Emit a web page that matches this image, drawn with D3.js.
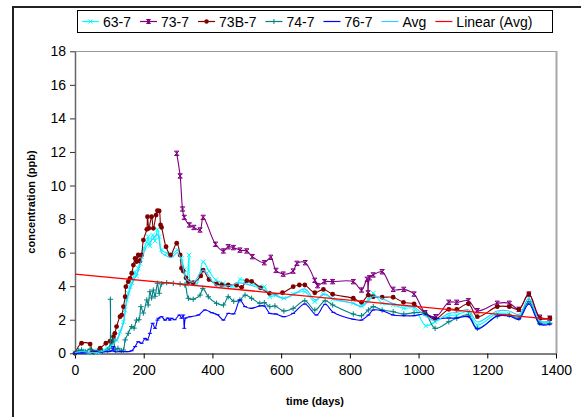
<!DOCTYPE html>
<html>
<head>
<meta charset="utf-8">
<script src="https://cdn.jsdelivr.net/npm/d3@7"></script>
<style>
  body { margin: 0; background: #fff; }
  text { font-family: "Liberation Sans", Arial, sans-serif; }
</style>
</head>
<body>
<svg id="chart" width="581" height="417"></svg>
<script>
// Data: [day, concentration ppb]
var s63 = [[0,0.05],[10,0.1],[19,0.15],[30,0.1],[44,0.05],[55,0.15],[65,0.05],[73,0.1],[85,0.2],[95,0.3],[107,0.6],[121,0.8],[131,1.29],[141,1.88],[146,2.58],[150,3.18],[155,3.58],[160,3.97],[165,4.2],[170,4.47],[175,4.86],[179,4.6],[184,5.07],[189,5.36],[194,5.76],[201,6.26],[209,6.65],[213,6.95],[218,6.4],[226,7.05],[233,6.7],[240,7.39],[245,6.95],[252,6.16],[267,5.96],[281,5.86],[298,6.16],[310,5.66],[318,5.0],[325,4.11],[332,5.86],[337,4.17],[354,4.13],[373,5.46],[390,4.9],[410,4.37],[432,4.17],[450,4.0],[470,3.97],[480,4.41],[495,4.3],[514,4.17],[538,3.97],[551,3.97],[567,3.37],[585,3.47],[608,3.28],[635,3.53],[669,3.67],[698,3.08],[723,3.53],[750,3.22],[810,2.98],[834,2.82],[854,3.22],[868,3.58],[894,2.98],[926,2.88],[957,2.68],[987,2.68],[1021,1.63],[1048,1.88],[1088,2.24],[1111,2.28],[1145,2.48],[1171,1.69],[1229,2.38],[1264,2.32],[1292,2.18],[1321,3.28],[1353,1.88],[1382,1.88]];

var s73 = [[296,11.92],[306,10.57],[313,8.6],[318,8.1],[333,7.65],[346,7.5],[364,7.35],[373,8.1],[409,6.5],[432,6.1],[446,6.35],[461,6.3],[480,6.15],[500,6.1],[516,5.76],[551,5.4],[570,5.72],[585,4.94],[606,4.72],[635,4.9],[646,5.36],[670,5.4],[698,4.35],[706,4.03],[726,4.27],[750,4.27],[810,4.27],[834,3.77],[850,4.41],[853,3.6],[857,4.5],[868,4.67],[894,4.86],[926,3.81],[957,3.81],[987,3.53],[1019,2.42],[1050,2.18],[1088,3.04],[1111,3.04],[1145,3.13],[1171,2.54],[1229,2.98],[1264,2.98],[1292,2.62],[1321,3.53],[1353,2.15],[1382,2.09]];

var s73B = [[0,0],[19,0.6],[44,0.55],[51,0.1],[73,0.3],[90,0.6],[102,0.73],[107,0.69],[112,0.99],[116,1.19],[121,1.59],[131,2.18],[136,2.28],[141,2.78],[146,3.37],[148,3.97],[155,4.27],[160,4.47],[165,4.77],[170,5.26],[175,5.66],[179,5.46],[184,5.86],[189,5.5],[194,5.86],[199,6.75],[209,7.39],[211,8.14],[215,7.45],[223,8.14],[228,7.45],[236,8.24],[240,8.5],[245,8.48],[249,7.65],[252,7.5],[265,6.35],[278,5.86],[296,6.56],[306,5.86],[310,5.07],[315,4.9],[323,4.5],[330,4.27],[344,4.21],[366,4.61],[373,4.96],[390,4.4],[412,4.13],[427,4.07],[446,4.07],[470,4.07],[485,3.93],[500,4.33],[514,4.29],[540,3.9],[566,3.58],[604,3.61],[635,3.97],[653,4.07],[669,4.07],[698,3.61],[723,3.81],[750,3.52],[810,3.28],[834,3.04],[854,3.47],[868,3.37],[894,3.34],[926,3.34],[956,3.04],[987,2.94],[1019,2.38],[1048,2.04],[1088,2.62],[1111,2.62],[1145,2.95],[1171,2.18],[1229,2.78],[1264,2.78],[1292,2.62],[1321,3.53],[1353,2.09],[1382,2.09]];

var s74 = [[0,0],[10,0.15],[19,0.2],[30,0.1],[44,0.25],[55,0.05],[65,0.15],[80,0.1],[95,0.2],[100,0.3],[103,3.22],[106,0.4],[112,0.8],[118,0.2],[125,0.3],[135,0.15],[141,0.2],[146,0.8],[155,1.19],[165,1.59],[172,1.5],[179,1.98],[186,2.0],[192,2.78],[199,2.4],[209,3.18],[213,2.88],[218,3.67],[223,3.3],[228,3.77],[233,3.4],[240,4.17],[245,3.58],[252,4.13],[267,4.21],[286,4.17],[306,4.13],[320,4.07],[330,3.28],[344,3.22],[364,3.47],[372,3.87],[388,3.37],[412,2.98],[432,2.88],[446,3.37],[462,3.1],[480,3.18],[495,3.47],[514,3.28],[538,2.98],[551,3.02],[567,2.78],[582,2.82],[608,2.52],[635,2.68],[669,3.13],[698,2.58],[728,3.13],[750,2.88],[810,2.34],[834,2.24],[854,2.58],[868,2.78],[894,2.58],[926,2.48],[957,2.34],[987,2.42],[1019,2.38],[1048,1.49],[1088,1.88],[1111,2.09],[1145,2.28],[1171,1.49],[1229,2.22],[1264,2.28],[1292,2.09],[1321,3.08],[1353,1.79],[1382,1.79]];

var s76 = [[0,0],[20,0.02],[44,0.05],[60,0.1],[73,0.05],[90,0.1],[100,0.1],[107,0.15],[112,0.4],[115,0.1],[130,0.1],[145,0.1],[155,0.1],[165,0.15],[175,0.4],[184,0.69],[194,0.6],[204,0.89],[210,0.8],[218,1.19],[226,1.79],[233,1.49],[240,1.98],[243,2.09],[252,2.18],[262,1.98],[270,2.1],[276,1.98],[281,2.09],[290,2.0],[304,2.28],[310,2.09],[315,2.28],[318,1.49],[322,2.1],[335,2.18],[359,2.28],[378,2.58],[398,2.42],[415,2.3],[432,1.98],[446,2.38],[462,2.35],[480,3.18],[495,2.78],[514,2.68],[538,2.82],[551,2.82],[567,2.38],[585,2.34],[608,2.18],[635,2.38],[669,2.94],[703,2.28],[728,2.92],[752,2.44],[810,2.03],[834,1.98],[854,2.28],[868,2.58],[894,2.54],[926,2.28],[957,2.24],[987,2.24],[1019,2.34],[1048,2.09],[1088,2.1],[1111,2.1],[1145,2.18],[1171,1.45],[1229,2.22],[1264,2.22],[1292,2.03],[1321,2.94],[1353,1.73],[1382,1.73]];

var sAvg = [[0,0.03],[19,0.12],[44,0.05],[73,0.08],[95,0.25],[107,0.5],[121,0.75],[131,1.2],[141,1.8],[150,3.0],[160,3.8],[170,4.3],[184,4.9],[194,5.6],[209,6.4],[226,6.8],[240,7.1],[252,6.0],[267,5.8],[281,5.7],[298,6.0],[310,5.5],[325,4.4],[346,4.25],[373,4.96],[410,4.07],[446,4.03],[480,4.2],[514,4.04],[551,3.79],[585,3.43],[608,3.26],[635,3.49],[669,3.84],[698,3.2],[728,3.53],[750,3.27],[810,2.98],[834,2.77],[854,3.11],[868,3.4],[894,3.26],[926,2.96],[957,2.82],[987,2.76],[1019,2.23],[1048,1.94],[1088,2.38],[1111,2.43],[1145,2.6],[1171,1.87],[1229,2.52],[1264,2.52],[1292,2.31],[1321,3.27],[1353,1.93],[1382,1.92]];

var trendDays = [0, 1382];
var trendVals = [4.72, 2.04];

var seriesNames = ["63-7", "73-7", "73B-7", "74-7", "76-7", "Avg", "Linear (Avg)"];
var xTicks = [0, 200, 400, 600, 800, 1000, 1200, 1400];
var yTicks = [0, 2, 4, 6, 8, 10, 12, 14, 16, 18];

var svg = d3.select("#chart");

// outer chart frame (only left and top edges are visible)
svg.append("rect")
  .attr("x", 13).attr("y", 7)
  .attr("width", 640).attr("height", 480)
  .attr("fill", "#fff")
  .attr("stroke", "#222")
  .attr("stroke-width", 2);

var x = d3.scaleLinear().domain([0, 1400]).range([75, 556]);
var y = d3.scaleLinear().domain([0, 18]).range([353.3, 51.3]);

// plot area border: top thin grey, right thicker grey
svg.append("line")
  .attr("x1", 75).attr("x2", 556).attr("y1", 51.5).attr("y2", 51.5)
  .attr("stroke", "#9a9a9a").attr("stroke-width", 1);
svg.append("line")
  .attr("x1", 556.5).attr("x2", 556.5).attr("y1", 51).attr("y2", 353)
  .attr("stroke", "#a8a8a8").attr("stroke-width", 2);

// axes
var yAxis = svg.append("g")
  .attr("transform", "translate(75,0)")
  .call(d3.axisLeft(y).tickValues(yTicks).tickSize(5).tickPadding(4).tickSizeOuter(0));
yAxis.select(".domain").attr("stroke", "#666").attr("stroke-width", 1.5);
yAxis.selectAll(".tick line").attr("stroke", "#333");
yAxis.selectAll("text").style("font-size", "14px").attr("fill", "#000");

var xAxis = svg.append("g")
  .attr("transform", "translate(0,353.5)")
  .call(d3.axisBottom(x).tickValues(xTicks).tickFormat(d3.format("d")).tickSize(5).tickPadding(7).tickSizeOuter(0));
xAxis.select(".domain").attr("stroke", "#000").attr("stroke-width", 1.2);
xAxis.selectAll(".tick line").attr("stroke", "#000");
xAxis.selectAll("text").style("font-size", "14px").attr("fill", "#000");

// axis titles
svg.append("text")
  .attr("x", 315).attr("y", 405)
  .attr("text-anchor", "middle")
  .style("font-size", "11px").style("font-weight", "bold")
  .text("time (days)");
svg.append("text")
  .attr("transform", "translate(35,202) rotate(-90)")
  .attr("text-anchor", "middle")
  .style("font-size", "11px").style("font-weight", "bold")
  .text("concentration (ppb)");

// marker shapes
function markerPath(type, s) {
  if (type === "x") return "M" + (-s) + "," + (-s) + "L" + s + "," + s + "M" + (-s) + "," + s + "L" + s + "," + (-s);
  if (type === "star") return "M" + (-s) + "," + (-s) + "L" + s + "," + s + "M" + (-s) + "," + s + "L" + s + "," + (-s) +
    "M" + (-s) + "," + (-s) + "L" + s + "," + (-s) + "M" + (-s) + "," + s + "L" + s + "," + s + "M0," + (-s) + "L0," + s;
  if (type === "plus") return "M" + (-s - 0.5) + ",0L" + (s + 0.5) + ",0M0," + (-s - 0.5) + "L0," + (s + 0.5);
  if (type === "dash") return "M" + (-s) + ",0L" + s + ",0";
  return "";
}

var series = [
  { name: seriesNames[0], data: s63, color: "#00ffff", marker: "x" },
  { name: seriesNames[1], data: s73, color: "#800080", marker: "star" },
  { name: seriesNames[2], data: s73B, color: "#800000", marker: "circle" },
  { name: seriesNames[3], data: s74, color: "#008080", marker: "plus" },
  { name: seriesNames[4], data: s76, color: "#0000ff", marker: "dash" },
  { name: seriesNames[5], data: sAvg, color: "#33ccff", marker: null }
];

var line = d3.line()
  .x(function(d) { return x(d[0]); })
  .y(function(d) { return y(d[1]); })
  .curve(d3.curveCatmullRom.alpha(0.5));

var plot = svg.append("g");

series.forEach(function(s) {
  plot.append("path")
    .datum(s.data)
    .attr("d", line)
    .attr("fill", "none")
    .attr("stroke", s.color)
    .attr("stroke-width", 1.1);
  if (!s.marker) return;
  var g = plot.append("g");
  if (s.marker === "circle") {
    g.selectAll("circle").data(s.data).enter().append("circle")
      .attr("cx", function(d) { return x(d[0]); })
      .attr("cy", function(d) { return y(d[1]); })
      .attr("r", 2.4)
      .attr("fill", s.color);
  } else {
    g.selectAll("path").data(s.data).enter().append("path")
      .attr("transform", function(d) { return "translate(" + x(d[0]) + "," + y(d[1]) + ")"; })
      .attr("d", markerPath(s.marker, s.marker === "dash" ? 2 : 2.2))
      .attr("fill", "none")
      .attr("stroke", s.color)
      .attr("stroke-width", 1);
  }
});

// linear trend of Avg
plot.append("line")
  .attr("x1", x(trendDays[0])).attr("y1", y(trendVals[0]))
  .attr("x2", x(trendDays[1])).attr("y2", y(trendVals[1]))
  .attr("stroke", "#ff0000")
  .attr("stroke-width", 1.3);

// legend
var legend = svg.append("g");
legend.append("rect")
  .attr("x", 77.5).attr("y", 10.5)
  .attr("width", 475).attr("height", 22)
  .attr("fill", "#fff")
  .attr("stroke", "#000")
  .attr("stroke-width", 1);

var legendItems = series.concat([{ name: seriesNames[6], color: "#ff0000", marker: null }]);
var lx = 82;
legendItems.forEach(function(s) {
  var item = legend.append("g");
  item.append("line")
    .attr("x1", lx).attr("x2", lx + 17)
    .attr("y1", 21.5).attr("y2", 21.5)
    .attr("stroke", s.color).attr("stroke-width", 1.2);
  if (s.marker === "circle") {
    item.append("circle").attr("cx", lx + 8.5).attr("cy", 21.5).attr("r", 2.2).attr("fill", s.color);
  } else if (s.marker) {
    item.append("path")
      .attr("transform", "translate(" + (lx + 8.5) + ",21.5)")
      .attr("d", markerPath(s.marker, 2))
      .attr("fill", "none").attr("stroke", s.color);
  }
  var t = item.append("text")
    .attr("x", lx + 21).attr("y", 26.5)
    .style("font-size", "14px")
    .text(s.name);
  lx += 21 + t.node().getComputedTextLength() + 9;
});
</script>
</body>
</html>
